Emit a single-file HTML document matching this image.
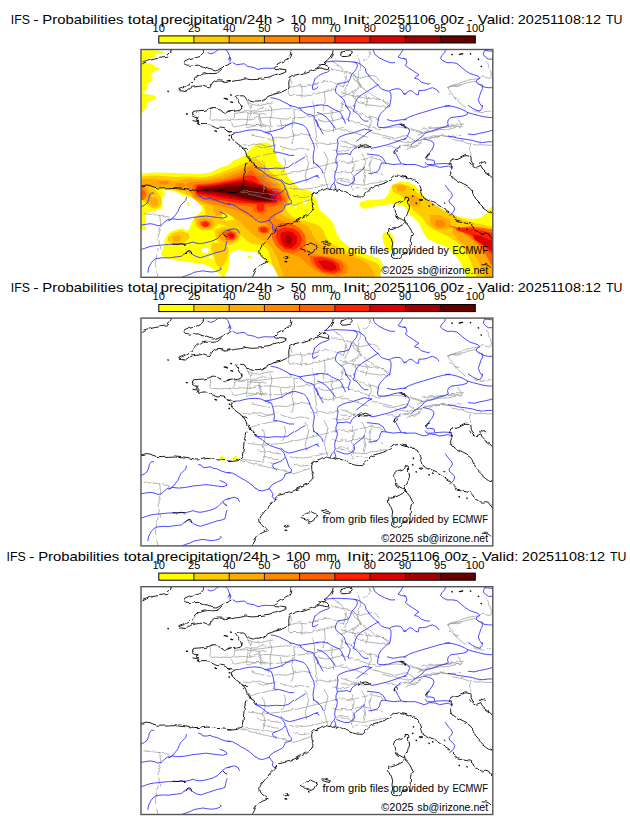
<!DOCTYPE html>
<html><head><meta charset="utf-8">
<style>
html,body{margin:0;padding:0;background:#fff;width:630px;height:828px;overflow:hidden}
svg{display:block}
text{font-family:"Liberation Sans",sans-serif;fill:#000}
</style></head>
<body>
<svg width="630" height="828" viewBox="0 0 630 828">
<defs>
<filter id="wig" x="-2%" y="-2%" width="104%" height="104%"><feTurbulence type="turbulence" baseFrequency="0.18" numOctaves="1" seed="3" result="n"/><feDisplacementMap in="SourceGraphic" in2="n" scale="2.4" xChannelSelector="R" yChannelSelector="G"/></filter>
<filter id="wig2" x="-2%" y="-2%" width="104%" height="104%"><feTurbulence type="turbulence" baseFrequency="0.12" numOctaves="1" seed="7" result="n"/><feDisplacementMap in="SourceGraphic" in2="n" scale="1.5" xChannelSelector="R" yChannelSelector="G"/></filter>
<filter id="soft" x="-5%" y="-5%" width="110%" height="110%"><feGaussianBlur stdDeviation="0.6"/></filter>
<clipPath id="mc"><rect x="141" y="49.5" width="351.8" height="227.8"/></clipPath>
<clipPath id="mc2"><rect x="141" y="318.1" width="351.8" height="227.8"/></clipPath>
<g id="basemap">
<g fill="none" stroke-linejoin="round" stroke-linecap="round">
<path filter="url(#wig)" stroke="#8c8c8c" stroke-width="0.65" d="M289.0,345.7 290.9,351.4 289.0,355.2 287.0,361.0 289.0,362.9 M289.0,355.2 296.6,353.3 304.2,354.3 311.8,352.4 317.5,351.4 M289.0,362.9 296.6,362.9 304.2,363.8 309.9,362.9 317.5,361.0 325.1,359.0 334.7,357.1 M247.0,370.5 252.8,372.4 258.5,373.3 266.1,371.4 271.8,370.5 M239.4,380.0 247.0,378.1 252.8,380.0 260.4,379.0 268.0,378.1 275.6,377.1 285.1,376.2 292.8,377.1 300.4,378.1 M233.7,387.6 241.3,386.7 249.0,387.6 256.6,385.7 266.1,384.8 275.6,385.7 285.1,386.7 294.7,385.7 304.2,384.8 311.8,383.8 319.4,381.9 327.0,381.0 334.7,380.0 342.3,378.1 M247.0,395.2 254.7,393.3 262.3,392.4 271.8,394.3 279.4,393.3 290.9,392.4 M250.9,402.9 260.4,404.8 268.0,406.7 277.5,404.8 285.1,405.7 294.7,402.9 304.2,401.9 309.9,402.9 M311.8,368.6 313.7,378.1 312.8,387.6 314.7,397.1 315.6,406.7 317.5,416.2 M269.9,372.4 270.9,380.0 269.0,387.6 269.9,395.2 268.0,402.9 M292.8,378.1 293.7,385.7 290.9,395.2 292.8,404.8 290.9,412.4 M250.9,372.4 249.9,380.0 249.0,387.6 M258.5,387.6 260.4,395.2 M279.4,387.6 281.3,397.1 M330.9,378.1 331.8,389.5 332.8,401.0 M342.3,368.6 340.4,378.1 M317.5,387.6 325.1,389.5 334.7,387.6 342.3,385.7 M319.4,397.1 327.0,399.0 334.7,397.1 342.3,395.2 M309.9,412.4 319.4,410.5 327.0,412.4 336.6,410.5 M243.2,412.4 250.9,413.3 258.5,411.4 266.1,414.3 273.7,413.3 M300.4,351.4 301.3,359.0 300.4,364.8 M323.2,359.0 324.2,368.6 322.3,378.1 M340.0,364.8 345.7,362.9 351.4,359.0 355.2,357.1 359.0,353.3 357.1,349.5 353.3,347.6 351.4,343.8 M351.4,359.0 355.2,366.7 359.0,370.5 366.7,372.4 374.3,373.3 381.9,374.3 387.6,375.2 M340.0,372.4 345.7,374.3 351.4,376.2 355.2,380.0 361.0,381.9 366.7,384.8 372.4,385.7 378.1,387.6 M340.0,385.7 345.7,387.6 351.4,389.5 359.0,391.4 364.8,393.3 370.5,395.2 378.1,397.1 385.7,395.2 395.2,394.3 402.9,395.2 410.5,397.1 416.2,399.0 423.8,401.0 431.4,399.0 439.0,397.1 446.7,397.1 454.3,395.2 460.0,394.3 M446.7,355.2 450.5,353.3 456.2,354.3 460.0,353.3 M448.6,361.0 452.4,364.8 458.1,366.7 M340.0,397.1 347.6,399.0 355.2,401.0 361.0,402.9 366.7,404.8 M340.0,408.6 345.7,410.5 351.4,412.4 355.2,416.2 M368.6,383.8 370.5,389.5 368.6,397.1 M381.9,404.8 389.5,406.7 397.1,408.6 406.7,410.5 416.2,408.6 425.7,406.7 435.2,404.8 442.9,403.8 450.5,404.8 460.0,402.9 M364.8,362.9 366.7,368.6 364.8,374.3 M343.8,343.8 347.6,349.5 345.7,355.2 343.8,361.0 M247.0,427.1 252.8,425.2 260.4,423.3 268.0,421.4 275.6,420.5 M256.6,413.8 262.3,415.7 269.9,413.8 277.5,411.9 M279.4,413.8 285.1,415.7 292.8,417.6 300.4,415.7 308.0,417.6 M247.0,442.4 254.7,443.3 262.3,444.3 271.8,443.3 281.3,442.4 290.9,440.5 300.4,438.6 308.0,436.7 315.6,434.8 323.2,432.9 330.9,431.0 338.5,429.0 M256.6,450.0 264.2,451.0 271.8,451.9 279.4,452.9 M239.4,459.5 247.0,461.4 254.7,463.3 262.3,465.2 271.8,467.1 279.4,469.0 287.0,471.0 292.8,472.9 298.5,471.0 304.2,469.0 309.9,467.1 M262.3,455.7 269.9,457.6 277.5,458.6 M289.0,455.7 296.6,457.6 304.2,456.7 311.8,455.7 319.4,453.8 327.0,451.9 M292.8,463.3 300.4,465.2 308.0,464.3 M323.2,419.5 327.0,427.1 325.1,434.8 323.2,442.4 325.1,450.0 327.0,455.7 M304.2,421.4 308.0,429.0 306.1,436.7 304.2,444.3 306.1,450.0 M262.3,429.0 264.2,436.7 262.3,444.3 264.2,451.9 262.3,459.5 M283.2,425.2 285.1,432.9 281.3,440.5 M332.8,417.6 340.4,419.5 348.0,417.6 M330.9,438.6 338.5,440.5 346.1,438.6 M334.7,448.1 342.3,446.2 348.0,448.1 M340.0,429.0 347.6,431.0 355.2,429.0 362.9,427.1 370.5,425.2 378.1,427.1 381.9,429.0 M340.0,438.6 347.6,440.5 355.2,438.6 361.0,436.7 368.6,438.6 376.2,440.5 381.9,442.4 M340.0,448.1 347.6,450.0 355.2,451.9 362.9,452.9 370.5,451.0 378.1,450.0 385.7,448.1 M351.4,457.6 359.0,455.7 366.7,457.6 M351.4,425.2 353.3,432.9 351.4,440.5 353.3,448.1 351.4,455.7 M361.0,421.4 364.8,429.0 362.9,436.7 364.8,444.3 362.9,451.9 M370.5,427.1 368.6,434.8 370.5,442.4 M385.7,413.8 397.1,415.7 402.9,413.8 408.6,411.9 M404.8,417.6 412.4,413.8 420.0,411.9 M340.0,413.8 347.6,415.7 355.2,413.8 362.9,415.7 370.5,413.8 M209.3,377.9 209.8,382.1 208.8,386.0 210.7,387.9 214.5,387.4 219.3,387.9 224.0,387.4 228.8,387.9 232.6,386.9 233.6,384.0 233.6,381.2 M233.6,381.2 235.5,380.7 241.2,380.2 246.9,380.7 252.6,381.2 258.3,381.7 262.1,381.2 265.0,382.1 M246.9,380.7 246.9,384.0 246.4,387.9 245.5,391.7 246.0,395.5 M228.8,387.9 230.7,390.7 231.7,393.6 233.6,394.5 238.3,393.6 243.1,392.6 246.0,392.1 250.7,392.6 256.4,393.1 262.1,393.6 265.0,394.5 M246.0,367.9 247.9,372.6 249.8,376.4 251.7,378.3 255.5,378.3 258.3,376.4 262.1,376.0 265.0,376.4 M258.3,381.7 259.3,386.0 260.2,389.8 262.1,392.6 M330.3,337.0 334.6,337.7 338.9,338.4 344.6,339.9 350.3,341.3 353.1,342.0 M353.1,342.0 355.3,345.6 358.9,349.9 360.3,354.1 357.4,357.0 353.1,359.9 351.7,364.1 354.6,367.0 M368.9,318.4 370.3,322.7 366.0,327.0 363.1,329.1 M446.9,354.9 451.1,353.4 455.4,352.0 461.1,349.9 465.4,348.4 471.1,347.0 476.9,346.3 479.7,344.9 481.9,343.4 484.0,344.9 486.9,345.6 489.7,346.3 490.4,342.7 489.7,338.4 488.3,334.1 486.9,331.3 485.4,329.1 M446.9,354.9 448.3,357.7 451.1,361.3 452.6,364.1 455.4,367.0 458.3,369.9 461.1,372.0 464.0,375.0 M404.0,412.6 409.7,414.0 414.0,415.4 418.3,411.1 421.1,408.3 424.0,405.4 428.3,404.7 432.6,403.3 438.3,404.0 444.0,403.3 448.3,404.0 451.1,406.9 456.9,408.3 461.1,409.0 466.9,411.1 471.1,411.9 475.4,412.6 481.1,412.3 486.9,412.9 494.0,412.6 M422.6,404.7 421.1,399.7 416.9,398.3 412.6,396.9 409.7,395.4 M421.1,396.9 426.9,396.1 432.6,395.4 441.1,394.7 446.9,394.7 452.6,394.0 458.3,395.4 461.1,394.0 459.7,391.1 458.3,388.3 456.9,387.6 M469.7,412.6 468.3,416.9 469.7,421.1 471.1,424.0 M472.6,378.3 481.1,380.4 489.7,379.7 M356.9,323.0 359.7,334.4 356.9,345.9 359.7,354.4 371.1,363.0 382.6,368.7 388.3,374.4 M351.1,343.0 359.7,345.9 371.1,343.0 379.7,348.7 M339.7,360.2 351.1,363.0 365.4,365.9 379.7,367.3 388.3,371.6 M448.3,354.4 462.6,351.6 474.0,348.7 482.6,354.4 M371.1,400.2 382.6,403.0 394.0,405.9 405.4,403.0 414.0,408.7 428.3,405.9 439.7,403.0 M416.9,403.0 428.3,397.3 445.4,394.4 462.6,391.6 M331.1,328.7 339.7,334.4 345.4,343.0 342.6,354.4 M314.0,351.6 325.4,348.7 336.9,351.6 342.6,354.4 M142.9,481.3 157.1,482.7 168.6,485.6 M158.6,482.7 160.0,494.2 157.1,505.6 160.0,517.0 M157.1,517.0 154.3,531.3 157.1,545.3 M241.4,458.4 254.3,459.9 262.9,461.3 274.3,462.7"/>
<path stroke="#2a2aff" stroke-width="0.85" d="M207.9,321.3 210.7,322.4 214.3,321.3 217.9,318.4 221.4,317.7 225.7,318.4 227.9,320.6 229.3,324.1 230.0,328.4 M228.0,328.4 230.1,325.6 230.9,328.4 229.4,330.6 M233.0,331.3 236.6,333.4 240.9,332.7 244.4,332.4 247.3,334.9 250.9,335.6 254.4,336.3 258.0,338.1 262.3,337.0 266.6,336.7 270.9,337.0 273.7,336.7 M270.9,366.3 275.1,367.0 279.4,368.4 283.7,370.6 288.0,372.7 290.9,375.0 M315.1,347.0 313.7,351.3 312.3,355.6 313.0,358.4 316.6,357.0 318.0,355.6 M324.6,330.6 330.3,330.1 336.0,329.6 341.7,329.9 347.4,330.1 353.1,330.6 357.4,331.3 360.3,332.7 363.1,334.9 365.3,337.0 366.0,340.6 368.1,343.4 370.3,346.3 373.1,349.1 376.0,352.0 378.1,353.4 379.6,355.6 381.7,357.7 386.0,359.1 389.6,359.9 391.0,362.7 391.0,367.0 390.3,371.3 389.6,375.0 M378.1,353.4 373.1,356.3 367.4,359.9 361.7,363.4 357.4,367.0 355.3,371.3 354.6,375.0 M389.6,359.6 391.7,358.4 396.0,357.3 400.3,357.7 402.4,359.9 403.9,362.7 406.0,362.7 M353.9,330.6 356.7,332.0 357.4,334.1 356.7,337.0 354.6,339.9 351.7,342.7 350.3,347.0 348.9,349.9 344.6,351.3 338.9,352.0 336.7,354.1 335.3,358.4 336.0,361.3 338.1,363.4 341.0,365.6 343.9,368.4 345.3,372.0 346.0,375.0 M316.0,347.0 318.9,344.1 323.1,342.0 327.4,340.6 329.6,339.1 M373.1,318.4 374.6,322.7 378.9,326.3 384.6,329.1 390.3,331.3 394.6,331.3 M403.1,318.4 400.3,322.7 398.1,325.6 401.7,327.0 406.0,327.7 M316.0,373.9 321.7,373.4 327.4,374.4 M404.0,326.3 406.1,328.4 406.9,331.3 405.4,334.1 408.3,336.3 412.6,339.1 416.9,342.0 419.0,343.4 415.4,345.6 414.7,347.0 418.3,347.7 421.1,350.6 425.4,352.0 429.0,352.7 429.7,352.0 M404.0,362.7 406.9,361.3 409.7,359.1 412.6,359.9 415.4,362.7 418.3,363.4 419.0,359.1 422.6,359.1 426.9,358.4 429.7,357.0 432.6,356.3 436.9,358.4 439.0,361.3 M445.4,318.4 444.7,321.3 441.9,324.1 440.4,327.0 442.6,329.1 446.9,331.3 452.6,331.3 456.9,332.0 461.1,335.6 465.4,339.1 469.7,342.0 474.0,343.4 478.3,344.9 479.7,347.0 476.9,348.4 476.1,350.6 478.3,352.7 481.9,354.1 484.0,355.6 488.3,356.3 494.0,356.3 M481.9,354.1 482.6,357.0 481.1,359.9 479.7,364.1 478.3,368.4 479.7,372.0 481.9,375.0 M481.9,317.7 485.4,318.4 484.0,320.6 483.3,323.4 485.4,325.6 488.3,327.7 492.6,327.7 494.0,327.0 M485.4,319.1 492.6,319.9 494.0,319.9 M445.4,374.4 449.7,374.1 M235.1,401.1 239.4,400.9 243.7,399.7 249.4,398.6 255.1,398.3 260.9,399.0 265.1,400.9 269.4,400.4 273.7,399.4 278.0,398.3 282.3,396.9 286.6,394.0 290.9,391.9 295.1,391.4 299.4,392.6 303.7,394.0 306.6,396.9 308.7,401.1 310.1,405.4 312.3,409.7 313.7,412.6 314.4,416.9 313.7,421.1 313.0,425.4 313.7,432.0 M265.1,401.1 270.9,402.6 272.3,405.4 273.7,411.1 274.4,416.9 273.7,420.4 279.4,421.1 285.1,422.6 289.4,424.0 293.7,424.0 M295.1,431.9 299.4,429.0 305.1,425.4 M289.4,374.0 295.1,375.4 299.4,376.9 303.7,376.1 308.0,375.4 313.7,374.7 318.0,374.0 M299.4,376.1 302.3,379.7 306.6,382.6 310.9,383.3 313.7,384.7 315.1,388.3 317.3,392.6 318.0,395.4 M317.4,381.1 321.7,382.6 326.0,385.4 329.6,389.7 333.1,394.0 335.3,396.9 M316.0,388.3 317.4,391.1 318.9,395.4 321.0,399.0 323.1,402.6 M327.4,374.0 331.7,376.9 336.0,379.0 339.6,380.4 341.7,383.3 343.1,386.9 344.6,389.7 345.3,391.9 M346.0,374.0 348.1,377.6 350.3,380.4 349.6,384.0 348.1,387.6 348.9,389.7 M353.9,374.0 354.6,376.9 353.1,379.7 356.0,381.1 358.9,384.0 361.7,387.6 364.6,389.7 368.1,389.7 M388.9,374.0 384.6,378.3 381.0,381.9 378.9,385.4 378.1,389.7 377.4,394.0 378.9,396.1 383.1,396.1 388.9,395.4 393.1,394.0 396.0,393.3 400.3,392.6 406.0,395.4 M387.4,388.3 393.1,389.7 397.4,389.0 401.7,388.3 406.0,388.3 M371.7,399.0 367.4,398.3 364.6,397.6 360.3,399.0 356.0,400.4 351.7,401.9 347.4,402.6 343.1,404.0 338.9,406.1 337.4,408.3 338.1,411.9 337.4,415.4 336.7,419.7 337.4,423.3 336.0,426.9 336.0,432.0 M371.7,399.0 367.4,401.1 364.6,404.0 360.3,406.9 356.7,409.7 M369.6,415.4 371.0,416.9 376.0,416.1 381.7,414.7 387.4,413.3 391.7,411.9 396.0,410.4 401.7,408.3 406.0,407.6 M357.4,415.4 353.9,417.6 351.7,419.7 350.3,423.3 346.7,421.9 343.1,422.6 338.9,422.6 337.4,423.3 M367.4,422.6 373.1,423.3 378.9,424.0 383.1,426.9 386.0,432.0 M393.9,421.1 395.3,418.3 398.1,416.9 400.3,414.0 M396.0,422.6 398.1,426.9 401.0,432.0 M404.0,388.3 409.7,385.4 415.4,383.3 422.6,381.1 429.7,379.0 436.9,376.9 442.6,375.4 446.9,374.7 451.1,374.7 456.9,376.1 461.1,377.6 465.4,379.7 467.6,381.1 472.6,382.6 478.3,384.0 484.0,385.4 489.7,386.1 494.0,386.1 M467.6,381.1 466.9,383.3 462.6,384.7 456.9,385.4 451.1,386.1 448.3,388.3 447.6,391.1 448.3,394.0 445.4,395.4 439.7,396.9 434.0,399.0 428.3,400.4 424.7,401.9 423.3,404.0 419.7,406.9 416.9,409.0 414.0,411.1 411.1,413.3 M404.0,407.6 406.9,406.1 408.3,402.6 409.7,399.7 408.3,396.9 406.1,395.4 M423.3,407.6 426.9,408.3 429.7,409.0 432.6,410.4 434.0,412.6 433.3,415.4 431.9,418.3 429.7,421.1 426.9,424.0 425.4,426.9 426.9,428.3 429.7,428.3 434.0,429.0 434.7,432.0 M448.3,404.7 452.6,405.4 458.3,406.9 464.0,407.6 468.3,408.3 472.6,409.0 476.9,410.4 482.6,411.1 488.3,410.4 494.0,410.4 M468.3,402.6 474.0,403.3 479.7,401.9 484.0,401.1 489.7,399.7 494.0,398.3 M468.3,374.0 472.6,376.9 476.9,379.0 479.7,379.7 481.9,376.9 482.6,374.0 M141.4,475.3 144.3,473.9 147.1,471.7 148.6,468.1 149.3,464.6 151.4,461.7 153.6,461.7 M186.4,466.0 185.7,468.9 182.9,471.7 180.7,473.9 179.3,476.7 177.9,480.3 175.7,483.1 173.6,486.0 171.4,487.4 169.3,489.0 M198.6,464.6 201.4,465.3 202.9,467.4 207.1,467.4 210.0,466.7 212.9,468.1 217.1,468.9 221.4,471.0 225.7,472.4 230.0,473.1 M168.6,489.0 172.9,487.4 178.6,488.1 185.7,487.4 192.9,486.0 200.0,485.3 205.7,484.6 211.4,485.3 217.1,486.0 222.9,486.7 227.1,485.3 225.7,483.1 222.9,481.7 220.0,480.7 M255.1,435.3 258.0,437.4 262.3,439.6 265.1,442.4 269.4,445.3 275.1,447.4 280.1,448.9 282.3,451.0 284.4,453.9 285.1,456.7 286.6,459.6 288.0,463.9 289.4,467.4 291.6,469.6 290.9,472.4 288.0,473.1 285.1,473.9 284.4,476.7 282.3,479.6 279.4,481.0 276.6,482.4 273.7,483.9 270.9,486.0 268.7,489.0 M255.1,436.0 260.9,436.7 268.0,437.4 275.1,436.7 282.3,437.0 288.0,436.0 290.9,433.9 293.7,431.7 M280.9,448.1 285.1,451.7 289.4,453.1 295.1,451.7 302.3,449.6 308.0,448.1 313.7,445.3 318.0,443.9 M285.1,457.4 282.3,460.3 278.0,462.4 273.7,463.9 272.3,465.3 273.7,468.1 276.6,469.6 M228.0,472.4 232.3,473.1 236.6,475.3 240.9,478.1 245.1,480.3 249.4,483.1 253.0,486.0 255.9,489.0 M313.7,431.0 316.6,433.1 318.0,433.9 M336.7,431.0 337.4,433.9 336.7,437.4 335.3,441.0 334.6,445.3 335.3,448.9 333.9,451.7 331.7,453.9 330.3,457.4 M334.6,452.4 335.3,454.6 336.0,457.4 M364.6,436.0 361.7,438.9 358.9,441.0 356.0,443.1 353.9,445.3 354.6,448.9 352.4,451.7 348.9,453.9 344.6,453.9 340.3,452.4 336.7,451.0 M316.0,433.1 318.9,435.3 321.7,438.1 323.1,441.7 M316.0,444.6 318.1,445.3 318.9,446.7 M381.7,431.7 380.3,433.9 379.6,437.4 377.4,440.3 373.1,441.7 368.9,442.1 M381.7,431.7 384.6,431.7 388.9,432.4 393.1,433.1 397.4,432.7 401.7,432.4 406.0,433.1 M404.0,433.1 409.7,433.1 415.4,433.1 419.7,434.6 424.0,436.0 426.9,435.3 429.7,433.9 435.4,434.6 439.7,436.0 444.0,435.3 448.3,434.6 451.1,436.0 452.6,435.3 M425.4,431.0 426.9,433.1 432.6,433.1 438.3,432.4 444.0,432.1 449.7,432.4 M445.4,453.9 446.9,456.0 449.0,458.9 451.1,461.0 452.6,463.9 451.1,466.7 449.0,468.9 449.7,471.7 452.6,473.9 454.7,476.7 454.0,479.6 451.9,482.4 449.7,483.9 M141.4,493.7 145.7,493.0 150.0,492.3 154.3,493.0 157.9,494.4 161.4,493.7 164.3,490.9 167.1,488.7 168.6,488.0 M141.4,518.0 145.7,516.6 150.0,515.1 154.3,514.4 158.6,514.0 164.3,513.4 168.6,513.0 174.3,513.0 180.0,512.6 185.7,512.6 190.0,511.6 192.9,510.6 195.7,511.6 200.0,512.3 204.3,511.6 208.6,510.6 212.9,509.4 217.1,507.3 220.0,504.4 222.9,501.6 225.7,499.4 230.0,498.7 M147.9,540.9 148.6,536.6 150.7,532.3 152.9,529.4 155.7,527.3 160.0,526.6 164.3,526.3 168.6,526.6 172.9,525.9 177.1,525.4 181.4,524.9 184.3,522.3 186.4,520.9 188.6,520.1 190.7,521.6 193.6,523.7 197.1,525.4 200.7,526.3 204.3,525.1 208.6,523.7 212.9,522.3 217.1,520.9 221.4,520.1 225.0,518.7 225.7,515.1 226.4,511.6 227.1,510.1 M181.4,546.0 185.7,544.4 190.0,543.0 194.3,540.9 198.6,540.1 202.9,539.4 207.1,540.1 211.4,540.6 215.7,540.1 220.0,538.7 221.4,537.3 220.0,536.6 M255.9,488.0 258.0,490.1 262.3,490.9 266.6,489.7 269.4,488.7 270.9,490.9 273.0,493.7 272.3,496.6 273.7,498.7 276.6,499.4 M228.0,498.7 230.9,498.0 234.4,497.3 238.0,498.7 239.4,501.6"/>
<path filter="url(#wig2)" stroke="#000" stroke-width="0.9" d="M141.7,331.3 145.7,329.1 149.3,327.7 154.3,326.7 158.6,325.9 162.9,325.3 166.4,324.9 167.9,324.1 167.1,323.4 169.3,321.3 170.3,319.1 170.7,317.7 M202.9,317.7 203.6,319.9 201.4,322.7 197.1,324.9 192.9,326.3 188.6,327.7 184.3,329.9 183.6,332.0 185.7,333.4 189.3,334.1 192.9,333.4 197.1,332.7 200.0,334.1 203.6,334.9 207.1,336.3 210.7,337.7 214.3,338.4 217.9,337.7 221.4,335.6 225.7,333.4 228.6,331.3 230.0,330.6 M225.7,333.0 222.1,336.3 219.3,339.1 217.1,340.6 212.9,341.3 208.6,341.0 204.3,341.3 200.7,342.0 199.3,343.4 197.1,344.1 195.0,346.3 192.9,349.1 190.0,351.3 185.7,353.9 181.4,355.6 177.9,357.0 178.3,358.4 181.4,358.4 184.3,359.1 187.1,357.7 189.3,355.9 191.4,354.9 195.7,354.4 198.6,353.9 200.7,353.4 203.6,354.1 206.4,354.9 208.6,355.6 210.7,352.7 212.1,350.6 214.3,349.1 217.9,348.4 221.4,348.7 224.3,350.1 227.1,349.6 230.0,349.9 M289.7,317.7 290.9,320.6 290.1,324.1 288.0,327.0 284.4,329.1 280.9,330.6 276.6,333.4 274.4,335.6 275.1,337.0 280.9,337.7 285.1,338.4 284.4,339.9 280.9,341.3 276.6,342.7 272.3,344.1 268.0,345.6 262.3,346.7 256.6,347.0 250.9,347.3 248.0,347.0 245.1,346.3 242.3,347.0 239.4,347.7 236.6,348.1 233.7,348.4 230.9,349.1 228.0,349.1 M318.0,337.0 313.7,337.7 309.4,339.1 303.7,341.3 298.0,342.7 292.3,344.1 289.4,345.6 288.0,348.4 287.7,352.0 288.0,355.6 285.9,357.7 280.9,359.9 275.1,361.3 270.9,362.7 266.6,364.1 265.4,366.3 262.3,368.4 258.0,369.6 253.7,369.6 249.4,368.4 246.6,368.4 245.1,366.3 243.7,364.1 242.3,363.4 239.4,363.4 236.6,363.9 235.1,364.1 236.6,366.3 238.0,368.4 239.4,371.3 240.9,375.0 M333.1,318.4 332.4,322.0 330.3,325.6 327.4,328.4 325.3,330.6 323.1,332.0 321.0,333.4 318.9,334.9 316.0,336.3 M318.9,332.7 323.1,332.0 326.0,333.4 328.9,335.6 328.1,338.4 324.6,337.7 321.7,337.0 318.9,336.3 M340.3,319.9 344.6,318.7 350.3,318.7 352.4,320.6 351.0,322.7 346.0,324.1 341.0,324.1 339.6,322.7 340.3,319.9 M230.0,379.7 225.7,381.1 222.9,380.4 220.0,378.3 217.1,376.6 212.9,376.1 210.0,376.9 207.1,378.3 202.9,379.0 198.6,379.4 194.3,379.7 191.4,381.1 192.1,383.3 194.3,384.7 197.1,385.4 196.4,387.6 197.9,389.7 197.1,391.9 200.0,392.3 204.3,391.9 208.6,392.6 212.9,394.0 215.7,395.4 217.9,396.1 220.0,395.4 222.9,396.1 225.7,397.6 227.1,399.7 229.3,400.4 230.0,401.1 M192.9,388.3 195.0,388.7 196.4,389.0 M228.0,379.7 232.3,379.0 236.6,378.3 239.4,377.6 240.9,375.4 240.9,374.0 M228.0,400.4 230.9,400.0 234.4,401.1 232.3,402.6 230.1,404.0 230.9,406.1 233.0,408.3 235.1,410.4 238.0,412.6 240.9,414.7 242.3,416.9 244.4,418.3 245.9,421.1 246.6,424.0 248.0,426.1 249.4,427.6 251.6,429.0 252.3,431.1 253.0,432.0 M241.6,415.4 243.7,415.7 246.6,416.9 244.4,417.1 241.6,416.1 M248.0,424.0 249.4,425.4 250.9,428.3 249.4,428.6 248.0,426.1 M357.4,415.4 360.3,413.3 364.6,412.3 367.4,413.3 369.6,415.4 366.0,414.7 361.7,414.7 357.4,415.4 M393.1,419.7 395.3,417.6 396.3,419.7 394.6,422.6 393.1,419.7 M398.9,393.3 401.0,392.3 403.1,393.3 406.0,395.4 403.1,394.7 400.3,394.0 M424.7,425.4 426.9,422.6 428.3,421.9 427.6,424.7 426.1,426.9 424.7,425.4 M448.3,432.0 449.7,429.0 452.6,427.6 456.9,426.9 461.1,424.7 464.0,423.3 466.9,423.3 469.7,424.0 471.1,426.1 471.1,429.0 472.6,432.0 M479.7,432.0 480.4,430.4 482.6,429.7 484.7,431.1 485.4,432.0 M141.4,454.6 144.3,453.9 147.1,453.6 150.0,454.1 152.9,455.3 157.1,456.7 162.9,456.4 168.6,456.4 174.3,456.0 178.6,456.4 182.9,457.0 188.6,457.9 194.3,458.9 198.6,458.9 202.9,457.9 207.1,457.4 211.4,457.9 215.7,458.9 220.0,458.9 224.3,459.6 230.0,460.3 M245.9,431.0 245.1,435.3 244.4,439.6 243.7,445.3 243.0,451.0 242.3,455.3 240.9,457.4 238.0,459.6 233.7,460.3 228.0,460.3 M253.0,431.0 253.7,433.9 255.9,435.3 M318.0,460.3 313.7,461.0 311.6,463.1 310.6,466.0 310.9,469.6 312.3,473.1 313.0,476.0 311.6,478.9 309.4,481.0 306.6,483.1 303.7,484.6 300.9,486.0 298.0,487.4 295.1,489.0 M316.0,461.0 320.3,458.9 324.6,456.7 327.4,457.4 330.3,458.1 333.1,457.4 336.0,458.9 338.9,458.1 341.7,458.9 344.6,460.3 348.9,462.4 353.1,463.9 357.4,464.6 361.7,464.6 364.6,461.7 367.4,459.6 370.3,456.7 373.1,455.3 377.4,453.9 381.7,452.4 386.0,451.0 388.9,448.9 391.7,446.0 394.6,443.9 398.9,443.6 403.1,444.6 406.0,445.3 M405.4,464.9 407.0,464.9 407.8,466.9 407.4,470.9 408.2,473.3 408.6,476.4 407.8,478.8 406.6,481.2 405.4,484.4 403.8,486.7 403.4,489.1 401.4,488.3 399.0,487.1 397.1,486.0 395.9,484.4 395.1,482.0 394.3,479.6 393.9,477.2 393.3,474.4 394.7,472.5 396.7,470.9 399.8,469.7 403.0,469.1 404.6,468.5 405.0,466.5 405.4,464.9 M404.0,444.6 408.3,446.7 412.6,448.1 416.9,449.6 418.3,452.4 419.7,456.7 421.1,461.0 422.6,465.3 425.4,466.7 428.3,468.1 432.6,470.3 436.9,472.4 441.1,475.3 445.4,478.1 449.7,481.0 453.3,484.6 456.9,489.0 M449.7,431.0 450.4,433.9 451.1,436.7 449.7,439.6 449.7,442.4 451.1,445.3 454.0,448.1 458.3,450.3 462.6,452.4 466.9,454.6 469.7,456.7 471.9,459.6 473.3,463.1 474.7,466.7 476.9,469.6 479.7,472.4 482.6,475.3 485.4,477.4 488.3,479.6 491.9,481.0 M469.7,431.0 471.1,433.1 474.0,436.0 476.9,435.3 479.7,433.9 481.1,436.7 484.0,439.6 486.9,441.7 489.7,443.9 492.6,446.7 M418.3,468.4 420.0,467.9 421.9,468.4 420.0,469.3 418.3,468.4 M443.7,471.0 444.7,470.3 445.7,471.3 444.7,472.1 443.7,471.0 M172.9,512.6 177.1,513.0 181.4,512.3 184.3,513.0 M185.0,521.6 187.1,519.4 189.3,519.4 190.7,521.6 M222.1,501.6 224.3,503.7 225.7,504.4 M299.4,488.0 295.1,490.1 289.4,491.6 283.7,493.0 278.0,494.4 275.1,497.3 273.7,500.1 271.6,502.3 269.4,504.4 266.6,508.0 263.0,512.3 260.1,515.9 258.7,518.7 259.4,522.3 261.6,525.1 264.4,527.3 267.3,529.4 265.1,530.1 261.6,531.6 258.0,533.7 255.9,535.9 254.4,538.7 253.0,541.6 251.6,544.4 250.9,546.0 M299.4,516.6 302.3,514.4 306.6,512.3 310.9,511.6 313.7,513.0 316.6,514.4 315.1,516.6 313.7,519.4 310.9,520.9 307.3,520.1 304.4,518.7 300.9,518.0 299.4,516.6 M283.0,525.9 285.1,524.4 288.0,524.4 287.3,526.6 284.4,527.3 283.0,525.9 M404.6,489.4 401.7,492.3 398.1,494.4 394.6,495.9 390.3,497.3 388.1,496.6 387.4,500.9 388.9,503.7 390.3,506.6 391.7,510.9 391.0,515.1 391.7,519.4 390.3,523.7 391.7,526.6 394.6,527.3 397.4,526.6 400.3,525.1 401.7,522.3 406.0,520.9 M321.7,509.4 324.6,509.4 328.1,510.9 329.6,512.3 328.1,513.0 324.6,511.6 321.7,510.9 M404.0,489.4 406.9,491.6 409.7,495.1 411.9,499.4 412.6,502.3 411.1,505.1 410.4,508.0 410.4,512.3 410.0,516.6 409.7,520.9 409.4,523.7 M454.0,488.0 456.9,489.4 461.1,490.1 465.4,490.9 469.7,491.6 472.6,493.7 474.0,496.6 474.7,498.7 476.9,498.7 479.7,500.9 482.6,502.3 485.4,501.6 488.3,502.3 489.7,504.4 491.1,506.6 492.6,507.3 M481.1,532.3 485.4,532.3 488.3,533.7 489.7,535.1"/>
<path stroke="#111" stroke-width="1.4" d="M167.9,359.9 168.3,360.1 M224.3,367.0 226.4,367.3 227.4,367.9 M230.6,363.4 231.4,363.7 M230.9,370.6 232.6,371.0 M451.9,323.0 452.3,323.3 M459.4,323.0 462.6,322.4 M470.4,322.4 470.7,322.7 M478.3,327.7 478.6,328.0 M481.1,334.9 481.4,335.1 M186.4,382.6 187.4,382.6 M215.0,399.4 216.4,400.0 M229.3,404.0 229.7,404.3 M228.9,408.3 229.4,408.6 M412.6,464.6 412.9,464.9 M413.3,458.1 413.6,458.4 M416.1,471.7 416.4,472.0 M429.0,474.6 429.3,474.9 M432.6,473.1 432.9,473.4 M285.1,530.1 286.6,530.4 M308.7,523.0 309.0,523.3 M459.0,496.6 459.4,496.9 M466.9,498.0 467.1,498.3"/>
</g>
</g>
<g id="cbar">
<rect x="158.8" y="35.9" width="35.25" height="7.1" fill="#ffff00"/>
<rect x="194.05" y="35.9" width="35.25" height="7.1" fill="#ffcc00"/>
<rect x="229.3" y="35.9" width="35.25" height="7.1" fill="#ffaa00"/>
<rect x="264.55" y="35.9" width="35.25" height="7.1" fill="#ff8800"/>
<rect x="299.8" y="35.9" width="35.25" height="7.1" fill="#ff6000"/>
<rect x="335.05" y="35.9" width="35.25" height="7.1" fill="#ff2000"/>
<rect x="370.3" y="35.9" width="35.25" height="7.1" fill="#dd0000"/>
<rect x="405.55" y="35.9" width="35.25" height="7.1" fill="#a00000"/>
<rect x="440.8" y="35.9" width="34.5" height="7.1" fill="#640000"/>
<g stroke="#000" stroke-width="0.9">
<line x1="193.9" y1="35.9" x2="193.9" y2="43"/>
<line x1="229.2" y1="35.9" x2="229.2" y2="43"/>
<line x1="264.4" y1="35.9" x2="264.4" y2="43"/>
<line x1="299.6" y1="35.9" x2="299.6" y2="43"/>
<line x1="334.9" y1="35.9" x2="334.9" y2="43"/>
<line x1="370.1" y1="35.9" x2="370.1" y2="43"/>
<line x1="405.4" y1="35.9" x2="405.4" y2="43"/>
<line x1="440.6" y1="35.9" x2="440.6" y2="43"/>
</g>
<rect x="158.8" y="35.9" width="316.5" height="7.1" fill="none" stroke="#000" stroke-width="1"/>
<g style="fill:#1a1a1a">
<text font-family="Liberation Sans, sans-serif" transform="scale(1.08,1)" x="141.22 146.93" y="31.6" font-size="10.28">10</text>
<text font-family="Liberation Sans, sans-serif" transform="scale(1.08,1)" x="174.03 179.75" y="31.6" font-size="10.28">25</text>
<text font-family="Liberation Sans, sans-serif" transform="scale(1.08,1)" x="206.60 212.32" y="31.6" font-size="10.28">40</text>
<text font-family="Liberation Sans, sans-serif" transform="scale(1.08,1)" x="239.03 244.75" y="31.6" font-size="10.28">50</text>
<text font-family="Liberation Sans, sans-serif" transform="scale(1.08,1)" x="271.62 277.34" y="31.6" font-size="10.28">60</text>
<text font-family="Liberation Sans, sans-serif" transform="scale(1.08,1)" x="304.12 309.84" y="31.6" font-size="10.28">70</text>
<text font-family="Liberation Sans, sans-serif" transform="scale(1.08,1)" x="336.74 342.46" y="31.6" font-size="10.28">80</text>
<text font-family="Liberation Sans, sans-serif" transform="scale(1.08,1)" x="369.32 375.03" y="31.6" font-size="10.28">90</text>
<text font-family="Liberation Sans, sans-serif" transform="scale(1.08,1)" x="401.97 407.68" y="31.6" font-size="10.28">95</text>
<text font-family="Liberation Sans, sans-serif" transform="scale(1.08,1)" x="431.36 437.08 442.79" y="31.6" font-size="10.28">100</text>
</g>
</g>
<g id="foot">
<text font-family="Liberation Sans, sans-serif" transform="scale(1.1017,1)" x="292.68" y="254.4" font-size="10.13">from</text>
<text font-family="Liberation Sans, sans-serif" transform="scale(1.1018,1)" x="315.80" y="254.4" font-size="10.13">grib</text>
<text font-family="Liberation Sans, sans-serif" transform="scale(1.0771,1)" x="343.24" y="254.4" font-size="10.13">files</text>
<text font-family="Liberation Sans, sans-serif" transform="scale(1.0770,1)" x="364.33" y="254.4" font-size="10.13">provided</text>
<text font-family="Liberation Sans, sans-serif" transform="scale(1.0546,1)" x="414.97" y="254.4" font-size="10.13">by</text>
<text font-family="Liberation Sans, sans-serif" transform="scale(0.9298,1)" x="486.54" y="254.4" font-size="10.13">ECMWF</text>
<text font-family="Liberation Sans, sans-serif" transform="scale(1.0786,1)" x="353.54" y="273.6" font-size="10.13">©2025</text>
<text font-family="Liberation Sans, sans-serif" transform="scale(1.0487,1)" x="397.96" y="273.6" font-size="10.13">sb@irizone.net</text>
</g>
<g id="frame"><rect x="141" y="49.5" width="351.8" height="227.8" fill="none" stroke="#555" stroke-width="1.4"/></g>
</defs>

<!-- PANEL 1 -->
<g>
<text font-family="Liberation Sans, sans-serif" transform="scale(0.9050,1)" x="11.85" y="23.9" font-size="13.59">IFS</text>
<text font-family="Liberation Sans, sans-serif" transform="scale(1.1750,1)" x="28.33" y="23.9" font-size="13.59">-</text>
<text font-family="Liberation Sans, sans-serif" transform="scale(1.0946,1)" x="38.72" y="23.9" font-size="13.59">Probabilities</text>
<text font-family="Liberation Sans, sans-serif" transform="scale(1.1635,1)" x="109.89" y="23.9" font-size="13.59">total</text>
<text font-family="Liberation Sans, sans-serif" transform="scale(1.1224,1)" x="142.92" y="23.9" font-size="13.59">precipitation/24h</text>
<text font-family="Liberation Sans, sans-serif" transform="scale(1.0144,1)" x="272.49" y="23.9" font-size="13.59">&gt;</text>
<text font-family="Liberation Sans, sans-serif" transform="scale(1.0550,1)" x="275.18" y="23.9" font-size="13.59">10</text>
<text font-family="Liberation Sans, sans-serif" transform="scale(0.9382,1)" x="332.07" y="23.9" font-size="13.59">mm,</text>
<text font-family="Liberation Sans, sans-serif" transform="scale(1.2258,1)" x="280.04" y="23.9" font-size="13.59">Init:</text>
<text font-family="Liberation Sans, sans-serif" transform="scale(1.0455,1)" x="357.32" y="23.9" font-size="13.59">20251106</text>
<text font-family="Liberation Sans, sans-serif" transform="scale(1.1009,1)" x="400.06" y="23.9" font-size="13.59">00z</text>
<text font-family="Liberation Sans, sans-serif" transform="scale(1.0244,1)" x="456.83" y="23.9" font-size="13.59">-</text>
<text font-family="Liberation Sans, sans-serif" transform="scale(1.1191,1)" x="426.81" y="23.9" font-size="13.59">Valid:</text>
<text font-family="Liberation Sans, sans-serif" transform="scale(1.0613,1)" x="487.96" y="23.9" font-size="13.59">20251108:12</text>
<text font-family="Liberation Sans, sans-serif" transform="scale(0.9065,1)" x="668.41" y="23.9" font-size="13.59">TU</text>
<use href="#cbar"/>
<g clip-path="url(#mc)">
<g id="pr1" filter="url(#soft)">
<path fill="#ffff00" fill-rule="evenodd" d="M139.0,173.8 142.0,173.6 152.0,172.4 164.0,172.4 176.0,173.0 188.0,173.6 200.0,174.0 210.0,172.5 220.0,168.0 230.0,164.0 234.0,160.0 238.0,159.0 244.0,155.6 247.0,153.0 249.0,150.0 252.0,147.0 257.0,144.0 262.0,142.4 266.0,142.4 270.0,144.0 273.0,148.0 276.0,153.0 277.0,160.0 280.0,163.0 283.0,166.0 285.0,170.0 287.0,175.0 290.0,179.0 293.0,182.0 296.0,185.0 299.5,189.0 305.0,190.0 310.0,190.5 312.4,195.0 315.2,197.9 317.1,200.7 318.1,204.5 319.0,209.3 321.9,212.1 325.7,215.0 328.6,217.9 331.4,220.7 333.3,223.6 334.8,227.4 336.2,231.2 337.5,235.0 340.0,239.0 344.0,243.0 348.0,246.0 356.0,250.0 364.0,254.0 372.0,256.0 378.0,258.0 382.0,262.0 383.0,268.0 380.0,274.0 377.0,280.0 139.0,280.0Z M163.0,190.0 170.0,190.5 174.0,191.0 178.0,193.0 182.0,195.0 186.0,196.5 190.0,197.0 194.0,197.5 197.1,200.0 200.0,204.3 202.9,210.0 198.6,213.6 194.3,217.1 191.4,222.9 189.3,228.6 187.1,230.7 182.9,228.6 177.1,229.3 170.0,232.1 165.7,237.1 164.3,241.4 163.6,247.1 161.4,252.9 161.4,255.7 168.6,259.0 177.1,260.5 185.7,261.5 194.3,262.9 200.0,263.6 208.6,265.7 214.3,270.0 220.0,274.3 222.9,277.5 223.0,281.0 139.0,281.0 139.0,230.0 145.7,230.0 145.7,212.9 154.3,211.4 161.4,208.6 162.9,205.7 161.4,200.0 165.0,194.0Z M187.5,202.0 189.5,202.5 190.0,205.0 188.0,206.0 187.0,204.0Z M201.0,249.0 206.0,247.6 209.0,249.6 208.0,253.0 203.0,253.0Z M230.0,253.6 234.3,250.7 240.0,250.0 245.7,251.4 250.0,252.1 254.3,252.1 258.6,252.9 262.9,257.9 265.7,261.4 271.4,265.0 277.1,269.3 281.4,272.9 284.3,276.4 286.0,279.0 286.0,281.0 222.9,281.0 225.7,273.6 228.6,267.9 229.3,260.7Z M247.9,255.7 251.4,255.7 251.4,257.9 247.9,257.9Z M208.6,256.4 212.9,256.4 212.9,258.6 208.6,258.6Z M303.0,199.8 306.7,200.5 306.5,204.5 303.0,204.0Z M294.3,206.0 296.2,206.0 296.2,207.4 294.3,207.4Z M141.9,50.4 149.5,50.1 157.1,50.4 162.9,51.4 163.8,52.8 161.9,53.8 157.1,53.8 155.2,55.2 156.2,56.6 154.3,57.6 151.4,58.0 145.7,59.5 143.8,60.9 145.7,62.8 149.5,63.3 153.3,64.7 155.2,66.6 159.0,68.0 160.0,69.5 155.2,70.4 152.4,72.8 151.4,75.7 152.4,78.5 151.4,81.4 148.6,82.8 147.6,85.2 147.6,89.0 144.8,90.9 142.4,92.3 144.8,93.8 149.5,94.7 153.3,95.2 155.7,96.6 156.2,98.5 153.3,100.0 148.6,100.9 146.7,102.3 147.6,105.2 146.7,107.1 144.3,109.0 143.3,111.9 141.9,112.8 138.1,112.8 138.1,47.1 141.9,47.1Z M269.0,139.0 275.0,139.5 275.0,141.0 269.0,141.0Z M281.5,148.5 284.0,148.5 284.0,150.5 281.5,150.5Z M360.0,202.0 368.0,200.0 376.0,200.0 384.0,199.0 388.0,195.0 390.0,189.0 394.0,184.0 400.0,181.6 408.0,182.0 414.0,185.0 418.0,189.0 422.0,194.0 426.0,199.0 432.0,203.0 438.0,207.0 444.0,210.0 450.0,213.0 456.0,216.0 464.0,218.0 472.0,219.0 480.0,218.0 486.0,214.0 490.0,208.0 496.0,204.0 496.0,281.0 468.0,281.0 464.0,270.0 460.0,262.0 456.0,256.0 450.0,250.0 444.0,246.0 436.0,243.0 428.0,239.0 424.0,234.0 421.0,228.0 418.0,222.0 414.0,218.0 410.0,215.0 408.0,212.0 406.0,208.0 403.0,205.0 398.0,205.0 392.0,204.0 384.0,205.0 376.0,206.0 368.0,208.0 364.0,209.0 360.0,206.0Z M383.0,233.0 388.0,232.0 393.0,235.0 394.0,242.0 393.0,249.0 390.0,252.0 386.0,250.0 384.0,244.0 382.4,238.0Z"/>
<path fill="#ffcc00" fill-rule="nonzero" d="M139.0,177.0 152.0,175.6 164.0,176.0 176.0,177.0 190.0,176.5 200.0,177.2 205.0,177.1 212.9,175.5 220.9,172.7 228.8,169.5 235.2,167.1 240.7,164.8 245.5,162.4 249.4,160.0 253.0,158.5 256.0,158.5 258.3,160.0 260.8,161.9 263.3,164.4 265.9,167.0 268.4,169.5 271.0,172.1 274.0,174.5 277.2,176.5 279.8,179.1 282.3,181.6 284.2,184.2 286.1,186.7 287.6,189.0 288.8,191.8 290.0,195.6 291.0,198.5 289.4,202.0 286.5,206.0 285.5,208.5 287.6,212.1 291.4,216.0 297.1,218.8 303.8,220.7 310.5,222.6 316.2,224.5 321.0,227.4 323.8,231.2 324.8,235.0 328.0,240.0 334.0,245.0 342.0,249.0 348.0,252.0 356.0,255.0 364.0,258.0 372.0,261.0 378.0,264.0 381.0,270.0 380.0,280.0 280.0,280.0 276.0,272.0 272.0,264.0 270.0,256.0 268.0,250.0 264.0,246.0 260.0,245.0 252.0,244.0 246.0,240.0 240.0,234.0 232.0,228.0 224.0,225.0 216.0,224.0 210.0,221.0 206.0,216.0 205.0,210.0 204.0,206.0 199.8,204.3 195.0,200.3 190.0,196.0 182.0,192.5 174.0,190.0 166.0,188.5 158.0,187.5 150.0,187.0 139.0,186.0Z M139.0,180.0 148.0,182.0 154.0,188.0 158.0,193.0 161.0,197.0 162.0,202.0 160.0,207.0 155.0,209.0 150.0,207.0 146.0,203.0 142.0,200.0 139.0,199.0Z M194.0,218.0 200.0,215.0 210.0,215.0 217.0,219.0 217.0,226.0 212.0,230.0 202.0,230.4 196.0,227.0Z M168.0,237.0 173.0,233.0 181.0,231.0 188.0,233.0 190.0,237.0 187.0,241.0 180.0,244.0 172.0,244.0 168.0,241.0Z M214.0,230.0 222.0,227.0 232.0,226.0 239.0,229.0 241.0,235.0 238.0,241.0 230.0,245.0 221.0,244.0 216.0,239.0Z M212.0,243.0 224.0,243.0 229.0,248.0 228.0,256.0 225.0,263.0 221.0,268.0 216.0,264.0 214.0,256.0 211.0,249.0Z M391.6,185.0 399.9,183.3 409.8,186.6 418.0,193.2 424.7,198.2 432.9,203.1 441.2,208.9 449.4,213.0 457.7,217.1 465.9,220.4 474.2,222.9 482.4,224.6 489.0,226.2 497.0,227.0 497.0,281.0 478.0,281.0 474.0,270.0 470.0,260.0 466.0,252.0 459.3,244.0 449.4,237.0 439.5,232.0 431.3,228.5 426.3,224.0 423.0,219.0 418.0,214.0 413.0,210.0 409.8,205.0 406.5,200.0 400.0,195.0 393.0,192.0Z"/>
<path fill="#ffff00" fill-rule="nonzero" d="M222.0,214.0 228.0,212.5 234.0,215.0 233.0,220.0 226.0,221.0 222.0,218.0Z"/>
<path fill="#ffaa00" fill-rule="nonzero" d="M139.0,180.0 152.0,178.4 164.0,179.6 176.0,181.0 190.0,179.0 200.0,179.2 212.9,178.0 220.9,175.9 228.8,173.1 236.7,170.3 243.1,167.9 248.7,165.6 251.3,163.5 253.8,163.2 256.3,165.7 259.5,168.3 262.7,170.8 265.9,173.3 268.0,174.5 270.9,176.5 273.4,179.1 276.0,181.6 278.5,184.2 280.4,186.7 281.7,189.0 285.0,191.0 287.0,194.0 288.5,197.5 288.5,200.5 286.5,203.5 284.0,207.0 282.0,210.5 280.5,213.0 280.0,214.0 285.7,216.9 292.4,219.8 299.0,222.6 304.8,224.5 308.6,227.4 311.4,231.2 312.4,235.0 316.0,240.0 320.0,244.0 326.0,248.0 334.0,251.0 344.0,254.0 354.0,257.0 362.0,260.0 368.0,264.0 372.0,269.0 374.0,274.0 375.0,280.0 284.0,280.0 282.0,272.0 280.0,266.0 278.0,260.0 275.0,254.0 272.0,248.0 268.0,244.0 264.0,241.0 258.0,238.0 252.0,234.0 247.0,229.0 242.0,224.0 236.0,219.0 228.0,214.0 220.0,210.0 212.0,206.0 205.3,204.0 199.8,201.5 195.0,199.0 190.0,193.0 180.0,189.0 170.0,188.0 160.0,188.0 150.0,187.0 139.0,186.0Z M139.0,184.0 146.0,186.0 150.0,192.0 152.0,198.0 155.0,197.0 158.0,200.0 158.0,205.0 154.0,206.0 150.0,204.0 146.0,200.0 139.0,200.0Z M197.0,220.0 204.0,217.6 212.0,219.0 214.4,224.0 210.0,228.4 202.0,228.4 198.0,225.0Z M172.0,237.0 177.0,235.0 181.0,237.0 180.0,241.0 174.0,241.6Z M218.0,232.0 224.0,229.0 233.0,228.4 238.4,232.0 238.0,238.0 232.0,242.4 224.0,242.0 219.0,238.0Z M213.0,207.0 219.0,206.0 223.0,210.0 222.0,215.0 217.0,216.0 213.6,212.0Z M395.0,186.0 402.0,184.5 407.0,187.0 405.0,191.0 398.0,191.5Z M408.0,196.0 414.0,195.0 420.0,199.0 421.0,204.0 416.0,207.0 410.0,205.0Z M429.6,214.7 440.0,215.0 450.0,220.0 451.0,226.0 446.0,229.5 436.0,229.0 430.0,224.0Z M452.7,227.9 464.3,227.9 475.8,229.5 485.7,231.2 497.0,231.2 497.0,281.0 486.0,281.0 482.0,270.0 478.0,260.0 472.0,252.0 465.9,246.0 457.7,239.4 452.7,232.8Z"/>
<path fill="#ff8800" fill-rule="nonzero" d="M186.0,184.0 190.0,182.0 195.0,181.6 202.9,181.2 210.9,180.4 218.8,178.8 224.8,178.0 232.8,175.1 240.7,171.9 247.0,168.5 250.0,166.0 252.5,167.0 255.7,169.5 258.9,172.1 262.0,174.0 265.2,176.5 268.3,179.1 271.5,181.6 274.0,184.2 276.6,186.7 277.9,189.0 281.0,188.5 284.2,191.2 286.1,194.3 287.4,197.5 287.1,200.4 284.7,204.3 283.1,208.3 280.7,211.5 276.7,213.9 275.2,216.0 275.5,218.5 278.0,219.5 280.0,219.8 285.7,222.6 292.4,225.5 297.1,228.3 301.0,232.1 304.0,236.0 306.0,240.0 305.0,247.0 310.0,253.0 320.0,255.0 332.0,257.0 342.0,260.0 348.0,266.0 347.0,273.0 340.0,276.0 328.0,275.6 316.0,271.0 308.0,265.0 300.0,257.0 290.0,254.0 282.0,250.0 277.0,244.0 275.0,236.0 272.0,230.0 266.0,224.0 260.0,220.0 250.0,217.0 240.0,212.0 230.7,208.5 218.8,205.5 209.3,203.5 201.3,201.1 195.0,197.9 191.0,193.0 188.0,188.0Z M159.0,181.0 168.0,181.0 169.0,184.0 160.0,184.5Z M176.0,183.0 184.0,183.0 185.0,187.0 177.0,187.0Z M139.0,186.0 145.0,188.0 147.0,195.0 144.0,200.0 139.0,200.0Z M436.0,220.0 444.0,220.5 446.0,226.0 440.0,228.0 435.0,225.0Z"/>
<path fill="#ff6000" fill-rule="nonzero" d="M194.0,184.5 197.4,183.9 202.9,183.5 210.9,182.7 218.8,181.2 226.7,179.6 234.7,177.6 239.4,176.0 241.5,175.1 247.9,172.7 250.0,170.0 253.2,171.4 256.3,175.0 260.1,177.2 263.3,179.7 266.4,182.3 269.6,184.8 272.1,187.3 274.0,188.5 277.9,188.0 281.0,191.2 282.9,194.3 284.5,197.5 285.0,200.5 283.1,203.0 278.3,205.3 272.8,206.8 266.0,207.5 268.0,211.0 262.0,214.0 254.0,212.0 252.9,207.0 245.0,206.0 234.7,205.1 222.8,203.1 212.5,201.1 202.9,198.7 195.8,196.3 193.0,190.0Z M274.0,226.0 282.0,223.0 292.0,224.0 300.0,228.0 305.0,235.0 306.0,243.0 302.0,250.0 293.0,253.5 283.0,252.0 276.0,246.0 272.0,238.0 272.0,231.0Z M139.0,188.0 144.0,190.0 146.0,196.0 143.0,200.0 139.0,200.0Z M200.0,221.6 206.0,220.0 210.4,222.4 210.0,226.4 204.0,227.6 200.4,225.0Z M223.0,233.0 229.0,230.4 235.6,232.0 237.0,237.0 233.0,240.4 226.0,240.0Z M310.0,256.0 320.0,256.0 332.0,258.0 340.0,261.0 344.0,266.0 342.0,272.0 334.0,274.4 324.0,273.0 316.0,268.0 311.0,262.0Z M449.4,225.5 458.8,227.4 470.0,226.5 480.0,227.5 490.0,229.0 497.0,230.0 497.0,272.0 490.5,263.8 485.8,254.4 478.8,245.0 469.4,236.8 458.8,229.7 449.4,226.5Z M258.0,227.0 264.0,225.5 270.0,228.0 269.0,233.0 262.0,233.5 258.0,231.0Z"/>
<path fill="#ff2000" fill-rule="nonzero" d="M196.0,186.0 198.2,184.7 202.9,184.7 210.9,183.9 218.8,182.7 226.7,181.2 234.7,179.6 242.6,177.6 247.0,175.5 251.0,174.5 255.0,176.5 258.2,180.0 261.3,183.0 264.5,186.0 267.5,188.5 274.0,188.5 277.9,191.2 280.4,194.3 281.7,197.5 281.7,200.7 279.9,202.0 275.2,203.6 268.8,204.0 264.0,204.2 264.5,207.0 263.5,211.0 258.0,211.5 256.5,208.0 257.0,204.5 252.9,204.0 245.0,203.6 238.7,203.1 226.7,201.1 214.8,199.1 204.5,196.7 196.6,194.8 195.0,190.0Z M277.0,230.0 284.0,227.5 293.0,228.5 299.0,232.0 302.0,239.0 300.0,246.0 294.0,250.0 285.0,249.0 279.0,244.0 276.0,237.0Z M139.0,190.0 142.0,192.0 142.0,198.0 139.0,198.0Z M201.6,223.0 206.0,221.6 209.0,224.0 207.0,227.0 203.0,226.6Z M226.0,234.0 231.0,232.0 235.0,234.4 234.0,238.4 229.0,239.0Z M313.0,258.0 322.0,257.0 332.0,259.6 339.0,264.0 340.0,270.0 334.0,273.0 324.0,271.6 317.0,267.0Z M455.3,228.5 467.0,227.9 478.8,229.7 485.8,231.5 497.0,234.4 497.0,257.0 489.3,252.0 483.5,245.0 476.4,237.9 467.0,233.2 457.6,230.9Z M260.0,228.0 265.0,227.5 268.0,230.0 266.0,232.5 261.0,232.0Z"/>
<path fill="#dd0000" fill-rule="nonzero" d="M197.0,188.0 198.2,185.9 202.9,185.9 210.9,185.5 218.8,184.3 226.7,183.1 234.7,181.6 242.6,180.0 250.0,180.5 255.0,182.5 260.1,185.5 264.0,187.5 269.6,188.5 273.4,191.2 276.0,194.3 277.2,197.5 277.2,200.7 275.2,202.3 268.8,202.6 260.9,202.8 252.9,202.4 245.0,201.4 230.7,199.1 218.8,197.1 206.9,194.8 197.4,193.2 196.5,190.0Z M281.0,233.0 287.0,231.0 293.0,232.5 297.0,237.0 296.5,244.0 291.0,248.0 285.0,247.0 281.5,242.0 280.5,237.0Z M228.0,235.0 232.0,233.6 234.0,236.0 231.6,238.0Z M318.0,261.0 326.0,260.0 334.0,263.0 337.0,268.0 332.0,271.0 324.0,269.0Z M472.9,234.4 481.1,236.2 489.3,239.7 497.0,241.5 497.0,254.0 488.2,248.5 481.1,243.8 474.1,239.1Z"/>
<path fill="#a00000" fill-rule="nonzero" d="M199.0,189.0 199.8,187.1 206.9,187.1 214.8,186.3 222.8,185.1 230.7,183.9 238.7,182.7 245.0,182.3 250.0,183.2 259.0,184.5 265.7,186.5 269.6,190.5 272.1,193.7 274.0,196.9 274.0,200.3 271.5,201.8 265.0,201.8 255.0,201.2 245.0,199.6 234.7,197.3 222.8,195.3 210.9,193.3 199.0,191.8Z M285.6,236.0 290.0,235.5 292.2,239.0 291.0,244.0 287.0,244.0 285.5,240.0Z"/>
<path fill="#640000" fill-rule="nonzero" d="M201.0,189.8 202.9,188.7 210.9,188.3 218.8,187.5 226.7,186.7 234.7,185.9 242.0,185.6 250.0,186.6 259.0,187.9 263.3,188.3 266.4,190.5 269.0,193.7 270.9,196.9 271.3,199.4 270.2,200.6 264.5,200.8 255.0,200.2 245.0,198.3 234.7,195.3 226.7,193.5 214.8,191.8 202.9,190.8Z"/>
</g>
<use href="#basemap" transform="translate(0,-268.6)"/>
</g>
<use href="#foot"/>
<use href="#frame"/>
</g>
<!-- PANEL 2 -->
<g transform="translate(0,268.6)">
<text font-family="Liberation Sans, sans-serif" transform="scale(0.9050,1)" x="11.85" y="23.9" font-size="13.59">IFS</text>
<text font-family="Liberation Sans, sans-serif" transform="scale(1.1750,1)" x="28.33" y="23.9" font-size="13.59">-</text>
<text font-family="Liberation Sans, sans-serif" transform="scale(1.0946,1)" x="38.72" y="23.9" font-size="13.59">Probabilities</text>
<text font-family="Liberation Sans, sans-serif" transform="scale(1.1635,1)" x="109.89" y="23.9" font-size="13.59">total</text>
<text font-family="Liberation Sans, sans-serif" transform="scale(1.1224,1)" x="142.92" y="23.9" font-size="13.59">precipitation/24h</text>
<text font-family="Liberation Sans, sans-serif" transform="scale(1.0144,1)" x="272.49" y="23.9" font-size="13.59">&gt;</text>
<text font-family="Liberation Sans, sans-serif" transform="scale(1.0181,1)" x="285.68" y="23.9" font-size="13.59">50</text>
<text font-family="Liberation Sans, sans-serif" transform="scale(0.9382,1)" x="332.07" y="23.9" font-size="13.59">mm,</text>
<text font-family="Liberation Sans, sans-serif" transform="scale(1.2258,1)" x="280.04" y="23.9" font-size="13.59">Init:</text>
<text font-family="Liberation Sans, sans-serif" transform="scale(1.0455,1)" x="357.32" y="23.9" font-size="13.59">20251106</text>
<text font-family="Liberation Sans, sans-serif" transform="scale(1.1009,1)" x="400.06" y="23.9" font-size="13.59">00z</text>
<text font-family="Liberation Sans, sans-serif" transform="scale(1.0244,1)" x="456.83" y="23.9" font-size="13.59">-</text>
<text font-family="Liberation Sans, sans-serif" transform="scale(1.1191,1)" x="426.81" y="23.9" font-size="13.59">Valid:</text>
<text font-family="Liberation Sans, sans-serif" transform="scale(1.0613,1)" x="487.96" y="23.9" font-size="13.59">20251108:12</text>
<text font-family="Liberation Sans, sans-serif" transform="scale(0.9065,1)" x="668.41" y="23.9" font-size="13.59">TU</text>
<use href="#cbar"/>
<g clip-path="url(#mc)">
<g filter="url(#soft)"><path fill="#ffff00" d="M218.9,190.8 L221.5,186.6 L225.2,190 L224.5,191.6 L219.5,191.6Z M231.9,190 L235.5,187.2 L239.2,190.2 L238.5,191.6 L233,191.6Z"/></g>

<use href="#basemap" transform="translate(0,-268.6)"/>
</g>
<use href="#foot"/>
<use href="#frame"/>
</g>
<!-- PANEL 3 -->
<g transform="translate(0,537.2)">
<text font-family="Liberation Sans, sans-serif" transform="scale(0.9050,1)" x="7.21" y="23.9" font-size="13.59">IFS</text>
<text font-family="Liberation Sans, sans-serif" transform="scale(1.1750,1)" x="24.76" y="23.9" font-size="13.59">-</text>
<text font-family="Liberation Sans, sans-serif" transform="scale(1.0946,1)" x="34.88" y="23.9" font-size="13.59">Probabilities</text>
<text font-family="Liberation Sans, sans-serif" transform="scale(1.1635,1)" x="106.28" y="23.9" font-size="13.59">total</text>
<text font-family="Liberation Sans, sans-serif" transform="scale(1.1224,1)" x="139.18" y="23.9" font-size="13.59">precipitation/24h</text>
<text font-family="Liberation Sans, sans-serif" transform="scale(1.0144,1)" x="268.35" y="23.9" font-size="13.59">&gt;</text>
<text font-family="Liberation Sans, sans-serif" transform="scale(1.0656,1)" x="268.49" y="23.9" font-size="13.59">100</text>
<text font-family="Liberation Sans, sans-serif" transform="scale(0.9382,1)" x="336.34" y="23.9" font-size="13.59">mm,</text>
<text font-family="Liberation Sans, sans-serif" transform="scale(1.2258,1)" x="283.30" y="23.9" font-size="13.59">Init:</text>
<text font-family="Liberation Sans, sans-serif" transform="scale(1.0455,1)" x="361.14" y="23.9" font-size="13.59">20251106</text>
<text font-family="Liberation Sans, sans-serif" transform="scale(1.1009,1)" x="403.69" y="23.9" font-size="13.59">00z</text>
<text font-family="Liberation Sans, sans-serif" transform="scale(1.0244,1)" x="460.74" y="23.9" font-size="13.59">-</text>
<text font-family="Liberation Sans, sans-serif" transform="scale(1.1191,1)" x="430.38" y="23.9" font-size="13.59">Valid:</text>
<text font-family="Liberation Sans, sans-serif" transform="scale(1.0613,1)" x="491.73" y="23.9" font-size="13.59">20251108:12</text>
<text font-family="Liberation Sans, sans-serif" transform="scale(0.9065,1)" x="672.83" y="23.9" font-size="13.59">TU</text>
<use href="#cbar"/>
<g clip-path="url(#mc)">
<use href="#basemap" transform="translate(0,-268.6)"/>
</g>
<use href="#foot"/>
<use href="#frame"/>
</g>
</svg>
</body></html>
